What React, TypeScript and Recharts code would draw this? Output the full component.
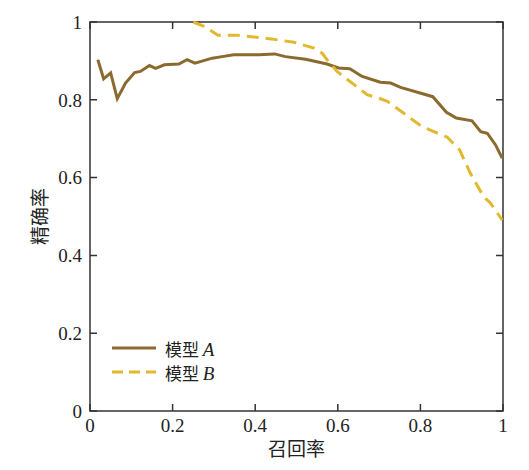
import { LineChart, Line, XAxis, YAxis, Legend, ReferenceArea } from "recharts";

const recallA = [
  0.019, 0.033, 0.05, 0.066, 0.086, 0.108, 0.122, 0.144, 0.159, 0.18, 0.215,
  0.235, 0.254, 0.296, 0.32, 0.348, 0.409, 0.447, 0.473, 0.522, 0.574, 0.602,
  0.629, 0.659, 0.703, 0.728, 0.752, 0.83, 0.863, 0.887, 0.925, 0.946, 0.962,
  0.982, 0.998,
];
const precisionA = [
  0.903, 0.854, 0.869, 0.803, 0.843, 0.87, 0.873, 0.888, 0.881, 0.89, 0.892,
  0.903, 0.894, 0.907, 0.911, 0.916, 0.916, 0.918, 0.911, 0.904, 0.892, 0.882,
  0.88, 0.86, 0.845, 0.843, 0.832, 0.808, 0.768, 0.753, 0.746, 0.718, 0.714,
  0.684, 0.65,
];

const recallB = [
  0.25, 0.276, 0.31, 0.356, 0.421, 0.494, 0.542, 0.562, 0.574, 0.598, 0.671,
  0.7, 0.72, 0.8, 0.824, 0.865, 0.895, 0.921, 0.953, 0.97, 0.998,
];
const precisionB = [
  1.0, 0.989, 0.966, 0.966, 0.959, 0.948, 0.933, 0.92, 0.903, 0.873, 0.813,
  0.804, 0.796, 0.734, 0.722, 0.704, 0.671, 0.611, 0.551, 0.534, 0.491,
];

const ticks = [0, 0.2, 0.4, 0.6, 0.8, 1];

const COLOR_A = "#8b6a2f";
const COLOR_B = "#e2b830";
const AXIS = "#333333";
const SERIF = "'Liberation Serif', 'Times New Roman', serif";
const CJK = "'Noto Sans CJK SC', sans-serif";

const WIDTH = 513;
const HEIGHT = 454;
const MARGINS = { top: 14, right: 18, bottom: 21, left: 22 };
const Y_AXIS_W = 60;
const X_AXIS_H = 30;
const PLOT_H = HEIGHT - MARGINS.top - MARGINS.bottom - X_AXIS_H;

const TICK_LEN = 7;
const DEFAULT_TICK = 6; // recharts still offsets labels by its own tick size
const MARGIN = 2;

const dataA = recallA.map((r, i) => ({ recall: r, precision: precisionA[i] }));
const dataB = recallB.map((r, i) => ({ recall: r, precision: precisionB[i] }));

const legendItems = [
  { letter: "A", color: COLOR_A, dash: undefined },
  { letter: "B", color: COLOR_B, dash: "11 6" },
];

const labelStyle = { fontFamily: SERIF, fontSize: 19, fill: "#222222" };

// all inward ticks (bottom/top, plus left/right on the end ticks) come from here
function BottomTick(props: any) {
  const { x, y, payload, index } = props;
  const axisY = y - MARGIN - DEFAULT_TICK;
  const topY = axisY - PLOT_H;
  let d = `M${x},${axisY}v${-TICK_LEN}M${x},${topY}v${TICK_LEN}`;
  if (index === 0) {
    ticks.forEach((v) => {
      d += `M${x},${axisY - v * PLOT_H}h${TICK_LEN}`;
    });
  }
  if (index === ticks.length - 1) {
    ticks.forEach((v) => {
      d += `M${x},${axisY - v * PLOT_H}h${-TICK_LEN}`;
    });
  }
  return (
    <g>
      <path d={d} stroke={AXIS} strokeWidth={1.5} fill="none" />
      <text x={x} y={y} dy="0.71em" textAnchor="middle" style={labelStyle}>
        {payload.value}
      </text>
    </g>
  );
}

function ModelLegend() {
  return (
    <div>
      {legendItems.map((item) => (
        <div
          key={item.letter}
          style={{ display: "flex", alignItems: "center", height: 24 }}
        >
          <svg width={44} height={6}>
            <line
              x1={0}
              y1={3}
              x2={44}
              y2={3}
              stroke={item.color}
              strokeWidth={3}
              strokeDasharray={item.dash}
            />
          </svg>
          <span
            style={{
              marginLeft: 9,
              fontFamily: CJK,
              fontSize: 17,
              color: "#222222",
            }}
          >
            模型{" "}
            <i style={{ fontFamily: SERIF, fontSize: 19 }}>{item.letter}</i>
          </span>
        </div>
      ))}
    </div>
  );
}

export default function App() {
  return (
    <LineChart width={WIDTH} height={HEIGHT} margin={MARGINS}>
      <XAxis
        type="number"
        dataKey="recall"
        domain={[0, 1]}
        ticks={ticks}
        height={X_AXIS_H}
        tick={BottomTick}
        tickLine={false}
        tickMargin={MARGIN}
        axisLine={false}
        label={{
          value: "召回率",
          position: "bottom",
          offset: 2,
          style: { fontFamily: CJK, fontSize: 19, fill: "#222222" },
        }}
      />
      <YAxis
        type="number"
        domain={[0, 1]}
        ticks={ticks}
        width={Y_AXIS_W}
        tick={{ fontFamily: SERIF, fontSize: 19, fill: "#222222" }}
        tickLine={false}
        tickMargin={MARGIN}
        axisLine={false}
        label={{
          value: "精确率",
          angle: -90,
          position: "center",
          dx: -20,
          style: { fontFamily: CJK, fontSize: 19, fill: "#222222" },
        }}
      />
      <ReferenceArea
        x1={0}
        x2={1}
        y1={0}
        y2={1}
        fill="none"
        stroke={AXIS}
        strokeWidth={1.5}
      />
      <Legend
        layout="horizontal"
        verticalAlign="middle"
        align="center"
        wrapperStyle={{ left: 104, top: 328, width: 140, height: 48 }}
        content={() => <ModelLegend />}
      />
      <Line
        data={dataA}
        dataKey="precision"
        name="模型 A"
        type="linear"
        stroke={COLOR_A}
        strokeWidth={3}
        dot={false}
        isAnimationActive={false}
      />
      <Line
        data={dataB}
        dataKey="precision"
        name="模型 B"
        type="linear"
        stroke={COLOR_B}
        strokeWidth={3}
        strokeDasharray="12 7"
        dot={false}
        isAnimationActive={false}
      />
    </LineChart>
  );
}
